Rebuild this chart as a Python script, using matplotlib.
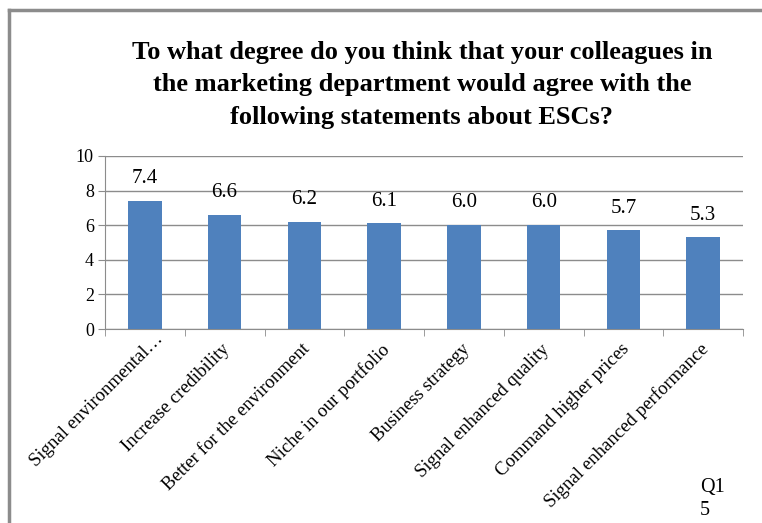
import matplotlib.pyplot as plt
from matplotlib.lines import Line2D
from matplotlib.transforms import ScaledTranslation

categories = [
    'Signal environmental\u2026',
    'Increase credibility',
    'Better for the environment',
    'Niche in our portfolio',
    'Business strategy',
    'Signal enhanced quality',
    'Command higher prices',
    'Signal enhanced performance',
]
scores = [7.4, 6.6, 6.2, 6.1, 6.0, 6.0, 5.7, 5.3]
yticks = [0, 2, 4, 6, 8, 10]

plt.rcParams['font.family'] = ['Liberation Serif', 'DejaVu Serif']

W, H = 762, 523
fig = plt.figure(figsize=(W / 100, H / 100), dpi=100)
ax = fig.add_axes([105 / W, 1 - 329 / H, (743 - 105) / W, (329 - 156) / H])

x = list(range(len(categories)))
ax.bar(x, scores, width=0.42, color='#4F81BD', zorder=3)
ax.set_xlim(-0.5, len(categories) - 0.5)
ax.set_ylim(0, 10)
ax.set_yticks(yticks)
ax.set_yticklabels([str(t) for t in yticks], fontsize=13)
ax.yaxis.grid(True, color='#8c8c8c', linewidth=1)
ax.tick_params(axis='y', length=5, color='#8c8c8c', pad=3)

# category separators on the x axis
ax.set_xticks([i - 0.5 for i in range(len(categories) + 1)], minor=True)
ax.tick_params(axis='x', which='minor', length=5, color='#8c8c8c', direction='out')
ax.set_xticks(x)
ax.set_xticklabels(categories, rotation=45, ha='right', va='center',
                   rotation_mode='anchor', fontsize=13.5)
ax.tick_params(axis='x', which='major', length=0, pad=2)
for i, lbl in enumerate(ax.get_xticklabels()):
    # the truncated first label sits further along its own direction
    dx, dy = (16, -5) if i == 0 else (3, -15)
    lbl.set_transform(lbl.get_transform()
                      + ScaledTranslation(dx / 100, dy / 100, fig.dpi_scale_trans))

for s in ['top', 'right']:
    ax.spines[s].set_visible(False)
for s in ['left', 'bottom']:
    ax.spines[s].set_color('#8c8c8c')

for xi, v in zip(x, scores):
    ax.annotate(f'{v:.1f}', (xi, v), xytext=(0, 16), textcoords='offset points',
                ha='center', va='center', fontsize=15)

fig.text(422 / W, 1 - 85 / H,
         'To what degree do you think that your colleagues in\n'
         'the marketing department would agree with the\n'
         'following statements about ESCs?',
         ha='center', va='center', fontsize=19, fontweight='bold',
         linespacing=1.55)

fig.text(700 / W, 1 - 499 / H, 'Q1\n5', ha='left', va='center', fontsize=14.5,
         linespacing=1.25)

# outer frame (left and top edges)
fig.add_artist(Line2D([9 / W, 9 / W], [0, 1 - 10 / H], color='#8c8c8c', linewidth=2.5,
                      transform=fig.transFigure))
fig.add_artist(Line2D([9 / W, 1], [1 - 10 / H, 1 - 10 / H], color='#8c8c8c', linewidth=2.5,
                      transform=fig.transFigure))

fig.savefig('out.png', dpi=100)
